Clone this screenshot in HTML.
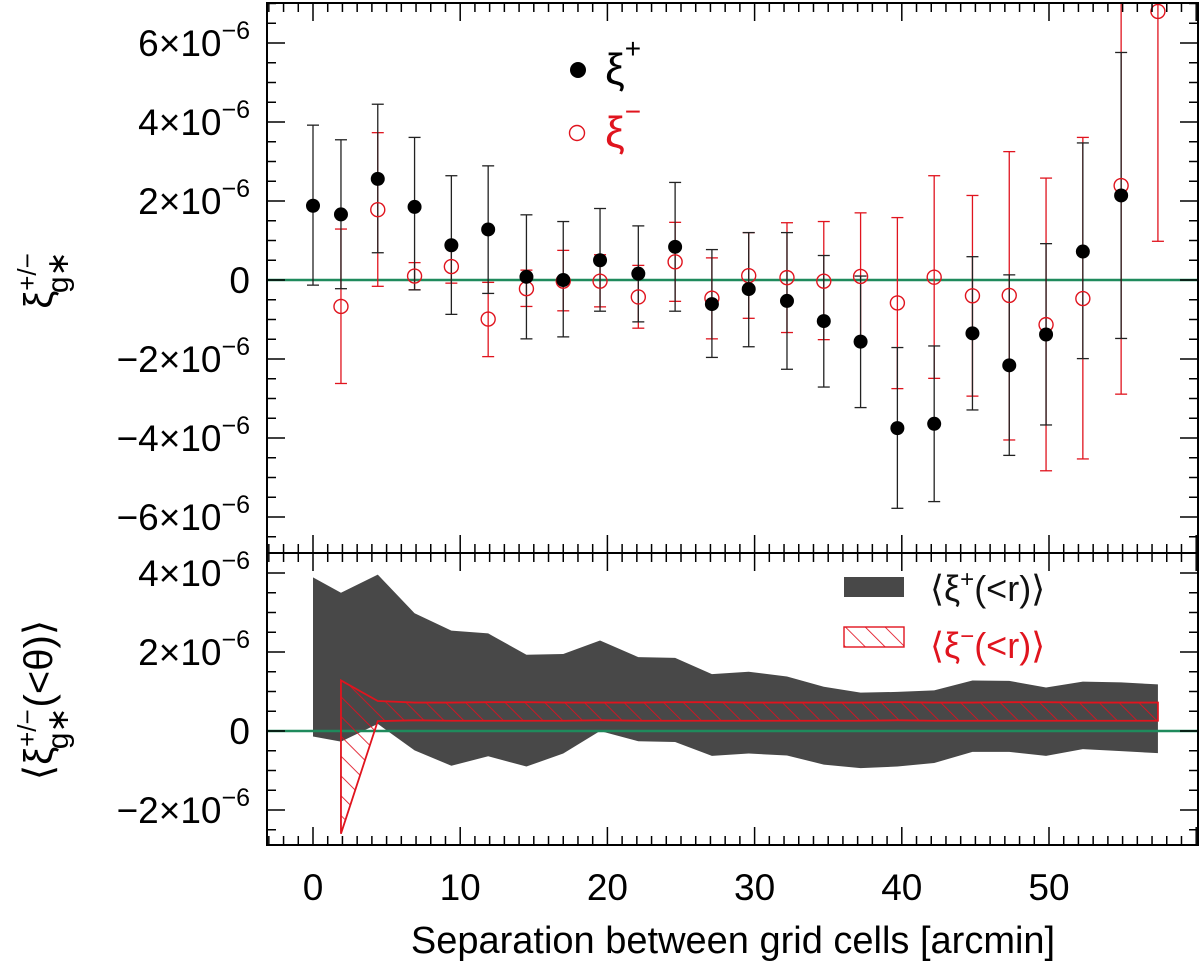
<!DOCTYPE html>
<html><head><meta charset="utf-8"><style>
html,body{margin:0;padding:0;background:#fff;}
svg{display:block;font-family:"Liberation Sans","DejaVu Sans",sans-serif;}
</style></head><body>
<svg id="chart" width="1200" height="965" viewBox="0 0 1200 965">
<defs>
<clipPath id="clipTop"><rect x="267" y="3" width="931" height="550"/></clipPath>
<clipPath id="clipBot"><rect x="267" y="553" width="931" height="292"/></clipPath>
<pattern id="hatch" patternUnits="userSpaceOnUse" width="14" height="14" patternTransform="rotate(-45)">
<line x1="0" y1="0" x2="0" y2="14" stroke="#e01020" stroke-width="1.7"/>
</pattern>
</defs>
<g id="topPanel" clip-path="url(#clipTop)"></g>
<g id="botPanel" clip-path="url(#clipBot)"></g>
<g id="axesLayer"></g>
<text x="733" y="953" text-anchor="middle" font-size="38">Separation between grid cells [arcmin]</text>
<g transform="translate(52,280) rotate(-90)">
<text x="0" y="0" text-anchor="middle" font-size="40">ξ<tspan font-size="26" dy="-16">+/−</tspan><tspan font-size="30" dx="-40" dy="32">g∗</tspan></text>
</g>
<g transform="translate(52,700) rotate(-90)">
<text x="0" y="0" text-anchor="middle" font-size="40">⟨ξ<tspan font-size="26" dy="-16">+/−</tspan><tspan font-size="30" dx="-40" dy="32">g∗</tspan><tspan dy="-16">(&lt;θ)⟩</tspan></text>
</g>
<g>
<circle cx="578" cy="70" r="8" fill="#000"/>
<text x="605" y="84" font-size="44" fill="#000">ξ<tspan font-size="28" dy="-26">+</tspan></text>
<circle cx="577" cy="133" r="7.5" fill="none" stroke="#e0141e" stroke-width="1.4"/>
<text x="605" y="147" font-size="44" fill="#e0141e">ξ<tspan font-size="28" dy="-26">−</tspan></text>
</g>
<g>
<rect x="844" y="577" width="60" height="20" fill="#484848"/>
<text x="930" y="601" font-size="36" fill="#111">⟨ξ<tspan font-size="24" dy="-14">+</tspan><tspan dy="14">(&lt;r)⟩</tspan></text>
<rect x="844" y="627" width="60" height="20" fill="url(#hatch)" stroke="#e0141e" stroke-width="1.4"/>
<text x="930" y="658" font-size="36" fill="#e0141e">⟨ξ<tspan font-size="24" dy="-14">−</tspan><tspan dy="14">(&lt;r)⟩</tspan></text>
</g>
</svg>
<script>
const xs = [0,1.9,4.4,6.9,9.4,11.9,14.5,17,19.5,22.1,24.6,27.1,29.6,32.2,34.7,37.2,39.7,42.2,44.8,47.3,49.8,52.3,54.9,57.4];
const blackVal = [1.88,1.66,2.56,1.85,0.88,1.28,0.08,0,0.5,0.16,0.84,-0.61,-0.23,-0.53,-1.04,-1.56,-3.75,-3.64,-1.35,-2.16,-1.38,0.72,2.14];
const blackHi = [3.92,3.55,4.45,3.61,2.64,2.89,1.65,1.48,1.81,1.37,2.47,0.77,1.2,1.2,0.62,0.1,-1.71,-1.67,0.59,0.13,0.92,3.47,5.76];
const blackLo = [-0.13,-0.22,0.69,-0.25,-0.87,-0.34,-1.49,-1.44,-0.79,-1.06,-0.79,-1.96,-1.69,-2.26,-2.71,-3.23,-5.78,-5.61,-3.29,-4.44,-3.67,-1.99,-1.48];
const redVal = [-0.67,1.78,0.1,0.34,-0.99,-0.22,-0.03,-0.03,-0.43,0.46,-0.46,0.11,0.06,-0.03,0.09,-0.58,0.07,-0.4,-0.39,-1.13,-0.47,2.39,6.8];
const redHi = [1.29,3.73,0.44,0.8,-0.06,0.25,0.75,0.64,0.37,1.46,0.56,1.2,1.45,1.48,1.7,1.58,2.64,2.14,3.25,2.58,3.61,9,9];
const redLo = [-2.62,-0.16,-0.25,-0.08,-1.94,-0.67,-0.78,-0.68,-1.22,-0.54,-1.49,-0.97,-1.33,-1.51,-1.56,-2.75,-2.49,-2.94,-4.05,-4.83,-4.53,-2.89,0.98];
const bandPlusUpper = [3.89,3.5,3.96,2.98,2.54,2.47,1.93,1.95,2.29,1.87,1.85,1.44,1.5,1.38,1.12,0.97,0.99,1.03,1.28,1.27,1.1,1.25,1.23,1.18];
const bandPlusLower = [-0.14,-0.27,0.18,-0.49,-0.88,-0.64,-0.9,-0.57,0.0,-0.26,-0.28,-0.63,-0.57,-0.62,-0.85,-0.94,-0.9,-0.81,-0.53,-0.53,-0.63,-0.46,-0.51,-0.56];
const bandMinusUpper = [1.28,0.76,0.72,0.72,0.73,0.73,0.72,0.72,0.72,0.73,0.73,0.72,0.72,0.72,0.72,0.73,0.72,0.72,0.73,0.73,0.72,0.72,0.72];
const bandMinusLower = [-2.6,0.25,0.27,0.26,0.26,0.26,0.26,0.27,0.26,0.26,0.26,0.26,0.26,0.26,0.26,0.27,0.26,0.26,0.26,0.26,0.26,0.26,0.26];
const topTicks = [-6,-4,-2,0,2,4,6];
const botTicks = [-2,0,2,4];
const xTicks = [0,10,20,30,40,50];

const NS="http://www.w3.org/2000/svg";
const X0=267,X1=1198,T0=3,T1=553,B1=845;
const sx=v=>313+v*14.72;
const sy=v=>280-v*39.5;
const sb=v=>731-v*39.5;
function mk(tag,attrs,parent){const e=document.createElementNS(NS,tag);for(const k in attrs)e.setAttribute(k,attrs[k]);parent.appendChild(e);return e;}
const gTop=document.getElementById('topPanel'),gBot=document.getElementById('botPanel'),gAx=document.getElementById('axesLayer');

let z=mk('line',{x1:X0,x2:X1,y1:sy(0),y2:sy(0),stroke:'#1f8a5c','stroke-width':2.5},gTop);



function errbar(g,x,hi,lo,col,name){
  const gg=mk('g',{stroke:col,'stroke-width':1.3},g);
  
  
  mk('line',{x1:x,x2:x,y1:sy(hi),y2:sy(lo)},gg);
  mk('line',{x1:x-6,x2:x+6,y1:sy(hi),y2:sy(hi)},gg);
  mk('line',{x1:x-6,x2:x+6,y1:sy(lo),y2:sy(lo)},gg);
}
for(let i=0;i<redVal.length;i++) errbar(gTop,sx(xs[i+1]),redHi[i],redLo[i],'#e0141e','xi-minus-errorbar');
for(let i=0;i<blackVal.length;i++) errbar(gTop,sx(xs[i]),blackHi[i],blackLo[i],'#222','xi-plus-errorbar');
for(let i=0;i<redVal.length;i++){
  const c=mk('circle',{cx:sx(xs[i+1]),cy:sy(redVal[i]),r:7,fill:'none',stroke:'#e0141e','stroke-width':1.4},gTop);
  
  
}
for(let i=0;i<blackVal.length;i++){
  const c=mk('circle',{cx:sx(xs[i]),cy:sy(blackVal[i]),r:7,fill:'#000'},gTop);
  
  
}

let pts=[];
for(let i=0;i<bandPlusUpper.length;i++)pts.push(sx(xs[i])+','+sb(bandPlusUpper[i]));
for(let i=bandPlusLower.length-1;i>=0;i--)pts.push(sx(xs[i])+','+sb(bandPlusLower[i]));
let pg=mk('polygon',{points:pts.join(' '),fill:'#484848'},gBot);


let z2=mk('line',{x1:X0,x2:X1,y1:sb(0),y2:sb(0),stroke:'#1f8a5c','stroke-width':2.5},gBot);


pts=[];
for(let i=0;i<bandMinusUpper.length;i++)pts.push(sx(xs[i+1])+','+sb(bandMinusUpper[i]));
for(let i=bandMinusLower.length-1;i>=0;i--)pts.push(sx(xs[i+1])+','+sb(bandMinusLower[i]));
let pr=mk('polygon',{points:pts.join(' '),fill:'url(#hatch)',stroke:'#e0141e','stroke-width':1.8},gBot);



function frame(y0,y1,name){const r=mk('rect',{x:X0,y:y0,width:X1-X0,height:y1-y0,fill:'none',stroke:'#000','stroke-width':2},gAx);
  
  }
frame(T0,T1,'top-panel-frame');frame(T1,B1,'bottom-panel-frame');
const tk=mk('g',{stroke:'#000','stroke-width':1.5},gAx);


for(let v=-3;v<=60;v++){const x=sx(v);if(x<X0||x>X1)continue;const L=(v%10===0)?18:9;
  for(const [yb,dir] of [[T0,1],[T1,-1],[T1,1],[B1,-1]]) mk('line',{x1:x,x2:x,y1:yb,y2:yb+dir*L},tk);}
for(let k=-14;k<=14;k++){const v=k/2;const y=sy(v);if(y<=T0||y>=T1)continue;const L=(k%4===0)?18:9;
  mk('line',{x1:X0,x2:X0+L,y1:y,y2:y},tk);mk('line',{x1:X1,x2:X1-L,y1:y,y2:y},tk);}
for(let k=-6;k<=10;k++){const v=k/2;const y=sb(v);if(y<=T1||y>=B1)continue;const L=(k%4===0)?18:9;
  mk('line',{x1:X0,x2:X0+L,y1:y,y2:y},tk);mk('line',{x1:X1,x2:X1-L,y1:y,y2:y},tk);}

function ylabel(v,y,name){
  const t=mk('text',{x:250,y:y+13,'text-anchor':'end','font-size':37,fill:'#000'},gAx);
  
  
  if(v===0){t.textContent='0';return;}
  t.textContent=(v<0?'\u2212':'')+Math.abs(v)+'\u00d710';
  const s=mk('tspan',{dy:-17,'font-size':25},t);s.textContent='\u22126';
}
topTicks.forEach(v=>ylabel(v,sy(v),'top-y-tick-label'));
botTicks.forEach(v=>ylabel(v,sb(v),'bottom-y-tick-label'));
xTicks.forEach(v=>{const t=mk('text',{x:sx(v),y:900,'text-anchor':'middle','font-size':37},gAx);t.textContent=v;
  
  });
</script>
</body></html>
